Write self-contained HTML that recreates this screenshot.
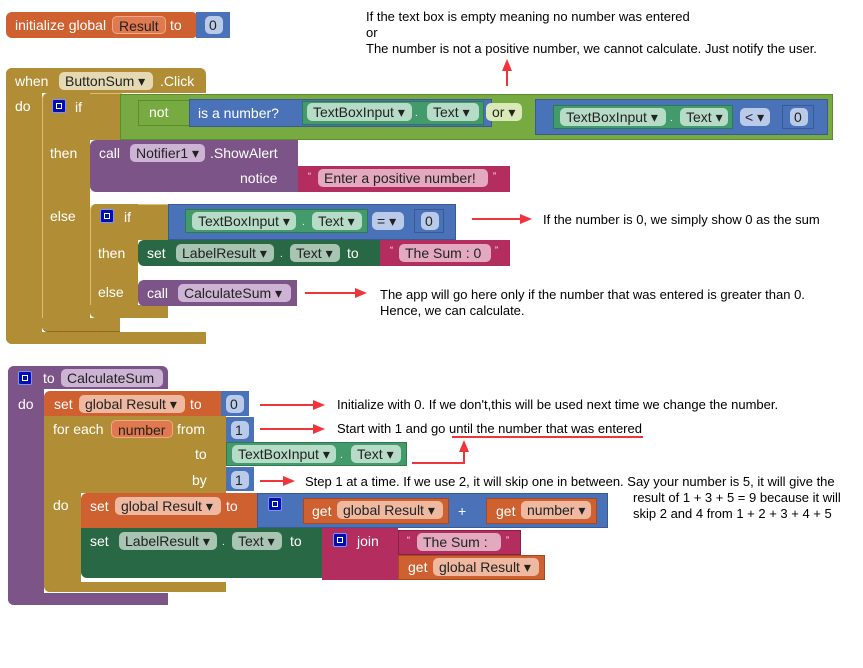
<!DOCTYPE html>
<html><head><meta charset="utf-8"><style>
body{margin:0;width:863px;height:668px;background:#fff;position:relative;overflow:hidden;font-family:"Liberation Sans",sans-serif;}
.b{position:absolute;box-sizing:border-box;}
.t{position:absolute;color:#fff;font-size:14px;line-height:16px;white-space:nowrap;}
.p{position:absolute;box-sizing:border-box;height:18px;border-radius:5px;font-size:14px;line-height:18px;padding:0 6px;white-space:nowrap;}
.a{position:absolute;color:#000;font-size:13px;line-height:15px;white-space:nowrap;}
.gold{background:#b18e36;}
.lg{background:#77ab41;}
.bl{background:#4a72b8;}
.cg{background:#439a6b;}
.dg{background:#296845;}
.pu{background:#7c5488;}
.mg{background:#b32d5e;}
.or{background:#cf6030;}
.pc{background:#b6dcc7;color:#222;}
.pd{background:#a8c4b2;color:#222;}
.po{background:#eeb9a0;color:#222;}
.pp{background:#cdb4d4;color:#222;}
.pm{background:#e3a9bf;color:#222;}
.pb{background:#b9cbe8;color:#222;}
.pg{background:#e5d9b4;color:#222;}
.sq{position:absolute;width:14px;height:14px;background:#0010b0;border:1px solid #8090ff;box-sizing:border-box;border-radius:2px;}
.sq:after{content:"";position:absolute;left:3px;top:3px;width:6px;height:6px;border:1px solid #fff;box-sizing:border-box;}
.ln{position:absolute;background:#f0343c;height:2px;}
.ah{position:absolute;width:0;height:0;border-top:5px solid transparent;border-bottom:5px solid transparent;border-left:12px solid #f0343c;}
</style></head><body>

<!-- init global -->
<div class="b or" style="left:6px;top:12px;width:192px;height:26px;border-radius:6px;"></div>
<div class="t" style="left:15px;top:17px;">initialize global</div>
<div class="p po" style="left:112px;top:16px;width:54px;background:#e07a4e;color:#222;border:1px solid #eea88a;">Result</div>
<div class="t" style="left:170px;top:17px;">to</div>
<div class="b bl" style="left:196px;top:12px;width:34px;height:26px;"></div>
<div class="p pb" style="left:205px;top:16px;width:18px;padding:0 4px;">0</div>

<!-- event -->
<div class="b gold" style="left:6px;top:68px;width:200px;height:25px;border-radius:6px 6px 0 0;"></div>
<div class="b gold" style="left:6px;top:68px;width:36px;height:276px;border-radius:6px 0 0 6px;"></div>
<div class="b gold" style="left:6px;top:332px;width:200px;height:12px;border-radius:0 0 0 6px;"></div>
<div class="t" style="left:15px;top:73px;">when</div>
<div class="p pg" style="left:59px;top:72px;width:94px;">ButtonSum ▾</div>
<div class="t" style="left:160px;top:73px;">.Click</div>
<div class="t" style="left:15px;top:98px;">do</div>

<!-- if -->
<div class="b gold" style="left:42px;top:93px;width:80px;height:47px;border-radius:6px 0 0 0;border-left:1px solid #d8be78;border-top:1px solid #d8be78;"></div>
<div class="b gold" style="left:42px;top:93px;width:48px;height:239px;border-left:1px solid #d8be78;border-radius:6px 0 0 6px;"></div>
<div class="b gold" style="left:42px;top:318px;width:78px;height:14px;border-radius:0 0 0 6px;border-bottom:1px solid #8a6d22;"></div>
<div class="sq" style="left:52px;top:99px;"></div>
<div class="t" style="left:75px;top:99px;">if</div>
<div class="t" style="left:50px;top:145px;">then</div>
<div class="t" style="left:50px;top:208px;">else</div>

<!-- green or block -->
<div class="b lg" style="left:120px;top:94px;width:713px;height:46px;border:1px solid #5e8a30;"></div>
<div class="b lg" style="left:138px;top:100px;width:55px;height:26px;border:1px solid #5e8a30;"></div>
<div class="t" style="left:149px;top:104px;">not</div>
<div class="b bl" style="left:189px;top:99px;width:303px;height:28px;border:1px solid #3a5a92;"></div>
<div class="t" style="left:198px;top:105px;">is a number?</div>
<div class="b cg" style="left:302px;top:101px;width:182px;height:24px;border:1px solid #2d7a50;"></div>
<div class="p pc" style="left:307px;top:103px;width:105px;">TextBoxInput ▾</div>
<div class="t" style="left:415px;top:106px;font-size:10px;">.</div>
<div class="p pc" style="left:427px;top:103px;width:52px;">Text ▾</div>
<div class="p" style="left:486px;top:103px;width:36px;background:#d9e9b8;color:#222;">or ▾</div>
<div class="b bl" style="left:535px;top:99px;width:293px;height:36px;border:1px solid #3a5a92;"></div>
<div class="b cg" style="left:553px;top:105px;width:180px;height:24px;border:1px solid #2d7a50;"></div>
<div class="p pc" style="left:560px;top:108px;width:106px;">TextBoxInput ▾</div>
<div class="t" style="left:670px;top:111px;font-size:10px;">.</div>
<div class="p pc" style="left:680px;top:108px;width:48px;">Text ▾</div>
<div class="p pb" style="left:740px;top:108px;width:30px;padding:0 5px;">&lt; ▾</div>
<div class="b bl" style="left:782px;top:105px;width:32px;height:24px;border:1px solid #3a5a92;"></div>
<div class="p pb" style="left:790px;top:108px;width:18px;padding:0 4px;">0</div>

<!-- notifier -->
<div class="b pu" style="left:90px;top:140px;width:208px;height:52px;border-radius:6px 0 0 6px;"></div>
<div class="t" style="left:99px;top:145px;">call</div>
<div class="p pp" style="left:130px;top:144px;width:75px;">Notifier1 ▾</div>
<div class="t" style="left:210px;top:145px;">.ShowAlert</div>
<div class="t" style="left:240px;top:170px;">notice</div>
<div class="b mg" style="left:298px;top:166px;width:212px;height:26px;"></div>
<div class="t" style="left:308px;top:168px;font-size:9px;">“</div>
<div class="p pm" style="left:318px;top:169px;width:170px;">Enter a positive number!</div>
<div class="t" style="left:493px;top:168px;font-size:9px;">”</div>

<!-- inner if -->
<div class="b gold" style="left:90px;top:204px;width:78px;height:36px;border-radius:6px 0 0 0;border-left:1px solid #d8be78;border-top:1px solid #d8be78;"></div>
<div class="b gold" style="left:90px;top:204px;width:48px;height:114px;border-radius:6px 0 0 6px;border-left:1px solid #d8be78;"></div>
<div class="b gold" style="left:90px;top:305px;width:78px;height:13px;border-radius:0 0 0 6px;"></div>
<div class="sq" style="left:100px;top:209px;"></div>
<div class="t" style="left:124px;top:209px;">if</div>
<div class="t" style="left:98px;top:245px;">then</div>
<div class="t" style="left:98px;top:284px;">else</div>
<div class="b bl" style="left:168px;top:204px;width:288px;height:36px;border:1px solid #3a5a92;"></div>
<div class="b cg" style="left:185px;top:209px;width:183px;height:24px;border:1px solid #2d7a50;"></div>
<div class="p pc" style="left:192px;top:212px;width:104px;">TextBoxInput ▾</div>
<div class="t" style="left:302px;top:215px;font-size:10px;">.</div>
<div class="p pc" style="left:312px;top:212px;width:50px;">Text ▾</div>
<div class="p pb" style="left:372px;top:212px;width:32px;padding:0 5px;">= ▾</div>
<div class="b bl" style="left:414px;top:209px;width:30px;height:24px;border:1px solid #3a5a92;"></div>
<div class="p pb" style="left:421px;top:212px;width:18px;padding:0 4px;">0</div>

<div class="b dg" style="left:138px;top:240px;width:242px;height:26px;border-radius:6px 0 0 6px;"></div>
<div class="t" style="left:147px;top:245px;">set</div>
<div class="p pd" style="left:176px;top:244px;width:98px;">LabelResult ▾</div>
<div class="t" style="left:280px;top:247px;font-size:10px;">.</div>
<div class="p pd" style="left:290px;top:244px;width:50px;">Text ▾</div>
<div class="t" style="left:347px;top:245px;">to</div>
<div class="b mg" style="left:380px;top:240px;width:130px;height:26px;"></div>
<div class="t" style="left:390px;top:242px;font-size:9px;">“</div>
<div class="p pm" style="left:399px;top:244px;width:92px;">The Sum : 0</div>
<div class="t" style="left:495px;top:242px;font-size:9px;">”</div>

<div class="b pu" style="left:138px;top:280px;width:159px;height:26px;border-radius:6px 0 0 6px;"></div>
<div class="t" style="left:147px;top:285px;">call</div>
<div class="p pp" style="left:178px;top:284px;width:113px;">CalculateSum ▾</div>

<!-- procedure -->
<div class="b pu" style="left:8px;top:366px;width:160px;height:23px;border-radius:6px 6px 0 0;"></div>
<div class="b pu" style="left:8px;top:366px;width:36px;height:239px;border-radius:6px 0 0 6px;"></div>
<div class="b pu" style="left:8px;top:593px;width:160px;height:12px;border-radius:0 0 0 6px;"></div>
<div class="sq" style="left:18px;top:371px;"></div>
<div class="t" style="left:43px;top:370px;">to</div>
<div class="p pp" style="left:61px;top:369px;width:102px;">CalculateSum</div>
<div class="t" style="left:18px;top:396px;">do</div>

<div class="b or" style="left:44px;top:391px;width:178px;height:25px;border-radius:6px 0 0 0;"></div>
<div class="t" style="left:54px;top:396px;">set</div>
<div class="p po" style="left:79px;top:395px;width:106px;">global Result ▾</div>
<div class="t" style="left:190px;top:396px;">to</div>
<div class="b bl" style="left:221px;top:391px;width:28px;height:25px;"></div>
<div class="p pb" style="left:226px;top:395px;width:18px;padding:0 4px;">0</div>

<div class="b gold" style="left:44px;top:416px;width:182px;height:77px;"></div>
<div class="b gold" style="left:44px;top:416px;width:37px;height:176px;border-radius:0 0 0 6px;"></div>
<div class="b gold" style="left:44px;top:582px;width:182px;height:10px;border-radius:0 0 0 6px;"></div>
<div class="t" style="left:53px;top:421px;">for each</div>
<div class="p" style="left:111px;top:420px;width:62px;background:#e07a4e;color:#222;border:1px solid #eea88a;">number</div>
<div class="t" style="left:177px;top:421px;">from</div>
<div class="t" style="left:195px;top:446px;">to</div>
<div class="t" style="left:192px;top:472px;">by</div>
<div class="t" style="left:53px;top:497px;">do</div>
<div class="b bl" style="left:226px;top:417px;width:28px;height:25px;"></div>
<div class="p pb" style="left:231px;top:421px;width:18px;padding:0 4px;">1</div>
<div class="b cg" style="left:226px;top:442px;width:181px;height:24px;border:1px solid #2d7a50;"></div>
<div class="p pc" style="left:232px;top:445px;width:104px;">TextBoxInput ▾</div>
<div class="t" style="left:340px;top:448px;font-size:10px;">.</div>
<div class="p pc" style="left:351px;top:445px;width:50px;">Text ▾</div>
<div class="b bl" style="left:226px;top:467px;width:28px;height:24px;"></div>
<div class="p pb" style="left:231px;top:471px;width:18px;padding:0 4px;">1</div>

<div class="b or" style="left:81px;top:493px;width:177px;height:35px;border-radius:6px 0 0 0;"></div>
<div class="t" style="left:90px;top:498px;">set</div>
<div class="p po" style="left:115px;top:497px;width:106px;">global Result ▾</div>
<div class="t" style="left:226px;top:498px;">to</div>
<div class="b bl" style="left:257px;top:493px;width:351px;height:35px;border:1px solid #3a5a92;"></div>
<div class="sq" style="left:268px;top:497px;"></div>
<div class="b or" style="left:303px;top:498px;width:146px;height:26px;border:1px solid #a54a20;"></div>
<div class="t" style="left:312px;top:503px;">get</div>
<div class="p po" style="left:337px;top:501px;width:106px;">global Result ▾</div>
<div class="t" style="left:458px;top:503px;">+</div>
<div class="b or" style="left:486px;top:498px;width:111px;height:26px;border:1px solid #a54a20;"></div>
<div class="t" style="left:496px;top:503px;">get</div>
<div class="p po" style="left:521px;top:501px;width:70px;">number ▾</div>

<div class="b dg" style="left:81px;top:528px;width:241px;height:50px;border-radius:0 0 0 6px;"></div>
<div class="t" style="left:90px;top:533px;">set</div>
<div class="p pd" style="left:119px;top:532px;width:98px;">LabelResult ▾</div>
<div class="t" style="left:222px;top:535px;font-size:10px;">.</div>
<div class="p pd" style="left:232px;top:532px;width:50px;">Text ▾</div>
<div class="t" style="left:290px;top:533px;">to</div>
<div class="b mg" style="left:322px;top:528px;width:76px;height:52px;"></div>
<div class="sq" style="left:333px;top:533px;"></div>
<div class="t" style="left:357px;top:533px;">join</div>
<div class="b mg" style="left:398px;top:530px;width:123px;height:25px;border:1px solid #8a1f46;"></div>
<div class="t" style="left:407px;top:532px;font-size:9px;">“</div>
<div class="p pm" style="left:417px;top:533px;width:84px;">The Sum :</div>
<div class="t" style="left:506px;top:532px;font-size:9px;">”</div>
<div class="b or" style="left:398px;top:555px;width:147px;height:25px;border:1px solid #a54a20;"></div>
<div class="t" style="left:408px;top:559px;">get</div>
<div class="p po" style="left:433px;top:558px;width:106px;">global Result ▾</div>

<!-- annotations -->
<div class="a" style="left:366px;top:9px;">If the text box is empty meaning no number was entered</div>
<div class="a" style="left:366px;top:25px;">or</div>
<div class="a" style="left:366px;top:41px;">The number is not a positive number, we cannot calculate. Just notify the user.</div>
<div class="b" style="left:506px;top:66px;width:2px;height:20px;background:#f0343c;"></div>
<div class="b" style="left:502px;top:59px;width:0;height:0;border-left:5px solid transparent;border-right:5px solid transparent;border-bottom:12px solid #f0343c;"></div>

<div class="ln" style="left:472px;top:218px;width:50px;"></div><div class="ah" style="left:520px;top:214px;"></div>
<div class="a" style="left:543px;top:212px;">If the number is 0, we simply show 0 as the sum</div>

<div class="ln" style="left:305px;top:292px;width:52px;"></div><div class="ah" style="left:355px;top:288px;"></div>
<div class="a" style="left:380px;top:287px;">The app will go here only if the number that was entered is greater than 0.</div>
<div class="a" style="left:380px;top:303px;">Hence, we can calculate.</div>

<div class="ln" style="left:260px;top:404px;width:55px;"></div><div class="ah" style="left:313px;top:400px;"></div>
<div class="a" style="left:337px;top:397px;">Initialize with 0. If we don't,this will be used next time we change the number.</div>
<div class="ln" style="left:260px;top:428px;width:55px;"></div><div class="ah" style="left:313px;top:424px;"></div>
<div class="a" style="left:337px;top:421px;">Start with 1 and go until the number that was entered</div>
<div class="ln" style="left:452px;top:436px;width:191px;"></div>
<div class="ln" style="left:412px;top:462px;width:53px;"></div>
<div class="b" style="left:463px;top:448px;width:2px;height:16px;background:#f0343c;"></div>
<div class="b" style="left:459px;top:440px;width:0;height:0;border-left:5px solid transparent;border-right:5px solid transparent;border-bottom:12px solid #f0343c;"></div>
<div class="ln" style="left:260px;top:480px;width:25px;"></div><div class="ah" style="left:283px;top:476px;"></div>
<div class="a" style="left:305px;top:474px;">Step 1 at a time. If we use 2, it will skip one in between. Say your number is 5, it will give the</div>
<div class="a" style="left:633px;top:490px;">result of 1 + 3 + 5 = 9 because it will</div>
<div class="a" style="left:633px;top:506px;">skip 2 and 4 from 1 + 2 + 3 + 4 + 5</div>
</body></html>
